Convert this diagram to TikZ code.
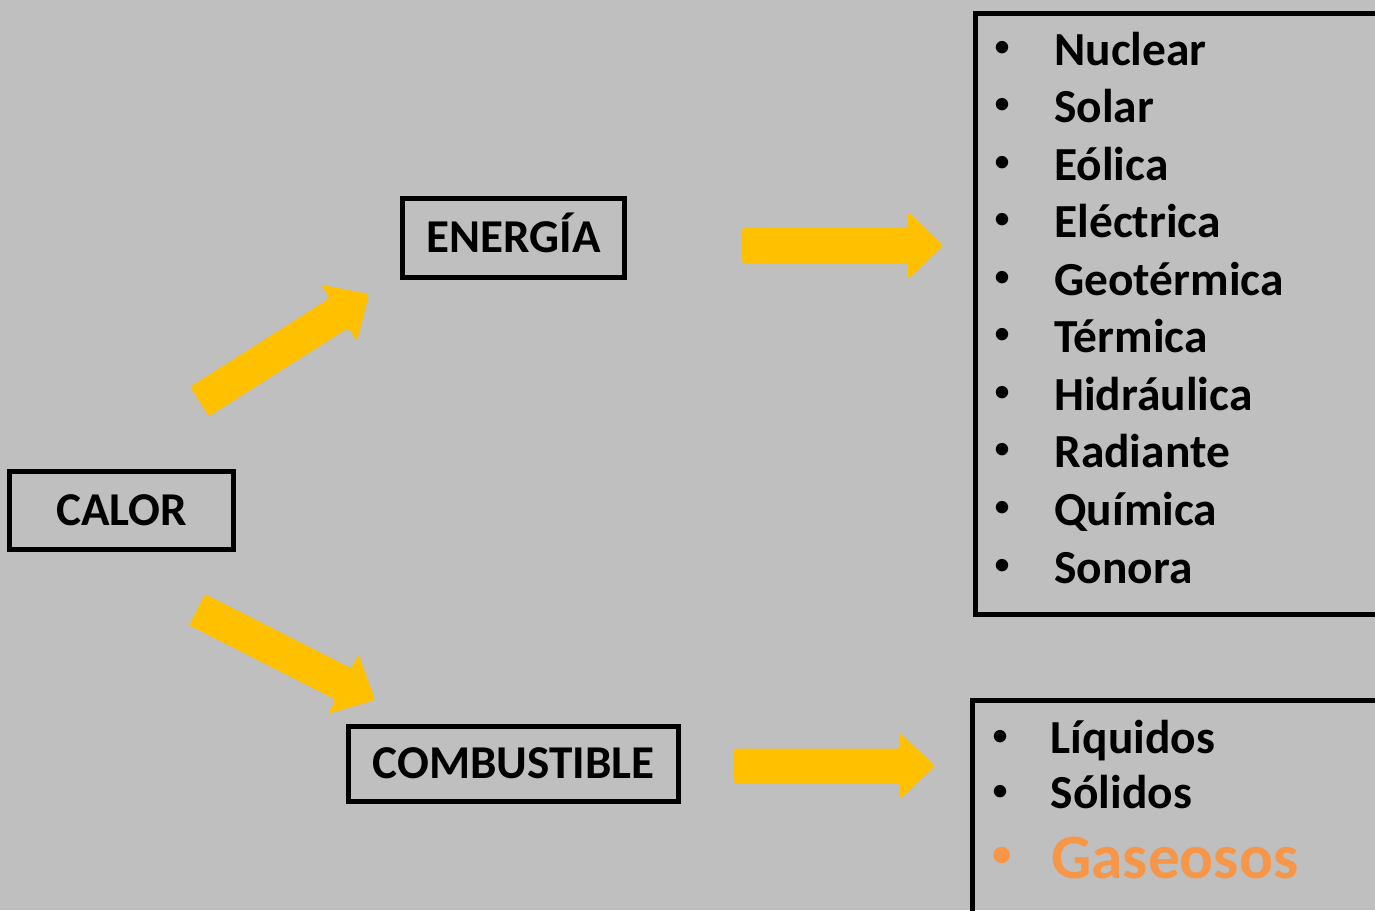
\documentclass[tikz,border=0pt]{standalone}
\usepackage{fontspec}
\setmainfont{Carlito}
\usetikzlibrary{calc}

\definecolor{bggray}{HTML}{BFBFBF}
\definecolor{arrowyellow}{HTML}{FFC000}
\definecolor{gasorange}{HTML}{F79646}

\tikzset{
  labelbox/.style={draw, line width=0.1cm, inner sep=0pt,
    font=\fontsize{26.8}{32}\selectfont\bfseries,
    text height=16.5pt, text depth=0pt},
  itemtext/.style={anchor=base west, inner sep=0pt,
    font=\fontsize{27}{32}\selectfont\bfseries},
  itembullet/.style={anchor=center, inner sep=0pt,
    font=\fontsize{20}{24}\selectfont},
  bigarrow/.style={fill=arrowyellow, rounded corners=1.5pt},
  listframe/.style={line width=0.1cm}
}

\begin{document}
\begin{tikzpicture}[x=0.02cm, y=-0.02cm]
  \fill[bggray] (0,0) rectangle (1375,910);
  \clip (0,0) rectangle (1375,910);

  % boxes
  \node[labelbox, minimum width=4.47cm, minimum height=1.55cm] (calor) at (121.6,510.5) {CALOR};
  \node[labelbox, minimum width=4.46cm, minimum height=1.57cm] (energia) at (513.5,238) {ENERGÍA};
  \node[labelbox, minimum width=6.62cm, minimum height=1.5cm] (combustible) at (513.5,763.5) {COMBUSTIBLE};

  % arrow ends
  \coordinate (t1) at (199.5,401.5);
  \coordinate (h1) at (369,294);
  \coordinate (t2) at (197,609.7);
  \coordinate (h2) at (375,700);
  \coordinate (t3) at (742,245.5);
  \coordinate (h3) at (943.5,245.5);
  \coordinate (t4) at (734,766);
  \coordinate (h4) at (935,766);

  \foreach \s/\e in {t1/h1, t2/h2, t3/h3, t4/h4} {
    \coordinate (n) at ($(\e)!0.71cm!(\s)$);
    \fill[bigarrow] ($(\s)!0.35cm!90:(\e)$) -- ($(n)!0.35cm!90:(\e)$)
      -- ($(n)!0.67cm!90:(\e)$) -- (\e) -- ($(n)!0.67cm!-90:(\e)$)
      -- ($(n)!0.35cm!-90:(\e)$) -- ($(\s)!0.35cm!-90:(\e)$) -- cycle;
  }

  % energy list
  \draw[listframe] (1390,13.5) -- (975,13.5) -- (975,614) -- (1390,614);
  \foreach \name [count=\i] in {Nuclear, Solar, Eólica, Eléctrica, Geotérmica,
      Térmica, Hidráulica, Radiante, Química, Sonora} {
    \node[itembullet] (be\i) at (1002,49+57.56*\i-57.56) {•};
    \node[itemtext] (e\i) at (1054,65+57.56*\i-57.56) {\name};
  }

  % fuel list
  \draw[listframe] (1390,700) -- (972.5,700) -- (972.5,920);
  \node[itembullet] (bc1) at (1000,738) {•};
  \node[itemtext] (c1) at (1050.5,753.5) {Líquidos};
  \node[itembullet] (bc2) at (1000,793) {•};
  \node[itemtext] (c2) at (1050.5,808.5) {Sólidos};
  \node[itembullet, text=gasorange, font=\fontsize{26.5}{32}\selectfont] (bc3) at (1002,858) {•};
  \node[itemtext, text=gasorange, font=\fontsize{36}{42}\selectfont\bfseries] (c3) at (1051,878.5) {Gaseosos};
\end{tikzpicture}
\end{document}
